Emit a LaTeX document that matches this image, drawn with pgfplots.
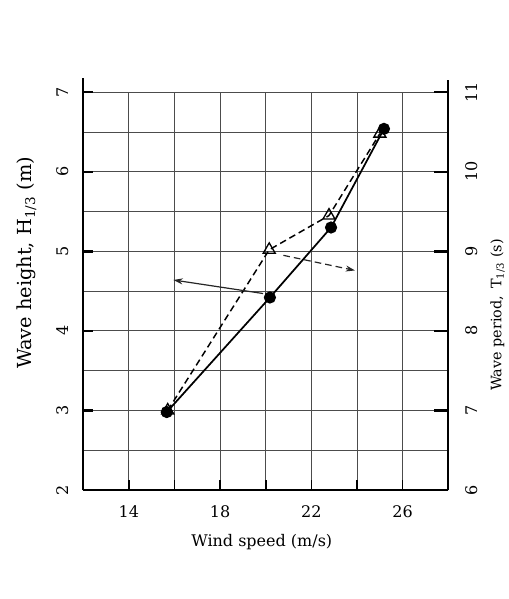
\documentclass[border=0pt]{standalone}
\usepackage{fontspec}
\setmainfont{DejaVu Serif}
\usepackage{pgfplots}
\pgfplotsset{compat=1.18}
\usetikzlibrary{arrows.meta}
\begin{document}
\begin{tikzpicture}
\pgfplotsset{
  every axis/.append style={
    scale only axis, width=273.75pt, height=298.3pt,
    xmin=12, xmax=28,
    xtick={12,14,...,28},
    tick align=inside,
    /pgf/number format/assume math mode=true,
    axis line style={line width=1.6pt, -},
    every tick label/.append style={font=\fontsize{12}{14}\selectfont},
  },
}
% right axis: wave period (drawn first, carries the grid)
\begin{axis}[
  ymin=6, ymax=11,
  axis x line*=bottom, axis y line*=right,
  xticklabels={},
  xtick style={draw=none},
  ytick={6,...,11},
  minor ytick={6.5,7.5,...,10.5},
  grid=both,
  major grid style={black!70, line width=0.8pt},
  minor grid style={black!70, line width=0.8pt},
  minor tick length=0pt,
  major tick length=11pt,
  ytick style={line width=1.8pt, black},
  y axis line style={shorten >=-9pt},
  yticklabel style={xshift=17.25pt, rotate=90, anchor=center},
  every axis y label/.style={at={(axis description cs:1.135,0.44)}, rotate=90, anchor=center,
    font=\fontsize{10.8}{13}\selectfont},
  ylabel={Wave period,\enspace T\textsubscript{1/3} (s)},
]
\addplot[black, line width=1.1pt, dash pattern=on 5pt off 3pt, mark=triangle, mark size=5.2pt,
  mark options={solid, fill=white, line width=1pt}]
  coordinates {(15.7,7.0)(20.15,9.02)(22.77,9.45)(25.0,10.48)};
\addplot[black!85, line width=0.9pt, dash pattern=on 5pt off 3pt, mark=none, -{Stealth[length=7pt, width=4.5pt]}]
  coordinates {(20.77,8.95)(23.91,8.76)};
\end{axis}
% left axis: wave height
\begin{axis}[
  ymin=2, ymax=7,
  axis x line*=bottom, axis y line*=left,
  xticklabels={,14,,18,,22,,26,},
  ytick={2,...,7},
  major tick length=7.5pt,
  ytick style={line width=1.8pt, black},
  xtick style={line width=1.2pt, black},
  y axis line style={shorten >=-10.5pt},
  yticklabel style={xshift=-15.75pt, rotate=90, anchor=center},
  xticklabel style={yshift=-16pt, anchor=center},
  every axis y label/.style={at={(axis description cs:-0.155,0.571)}, rotate=90, anchor=center,
    font=\fontsize{14.5}{16}\selectfont},
  every axis x label/.style={at={(axis description cs:0.489,-0.131)}, anchor=center,
    font=\fontsize{12}{14}\selectfont},
  ylabel={Wave height, H\textsubscript{1/3} (m)},
  xlabel={Wind speed (m/s)},
]
\addplot[black, line width=1.3pt, mark=*, mark size=3.9pt]
  coordinates {(15.66,2.98)(20.18,4.42)(22.86,5.30)(25.18,6.54)};
\addplot[black!85, line width=0.9pt, mark=none, -{Stealth[length=7pt, width=4.5pt]}]
  coordinates {(19.88,4.47)(15.95,4.64)};
\end{axis}
\pgfresetboundingbox
\path[use as bounding box] ([xshift=-62.475pt, yshift=-81.75pt]current axis.south west)
  rectangle ([xshift=318.525pt, yshift=367.5pt]current axis.south west);
\end{tikzpicture}
\end{document}
